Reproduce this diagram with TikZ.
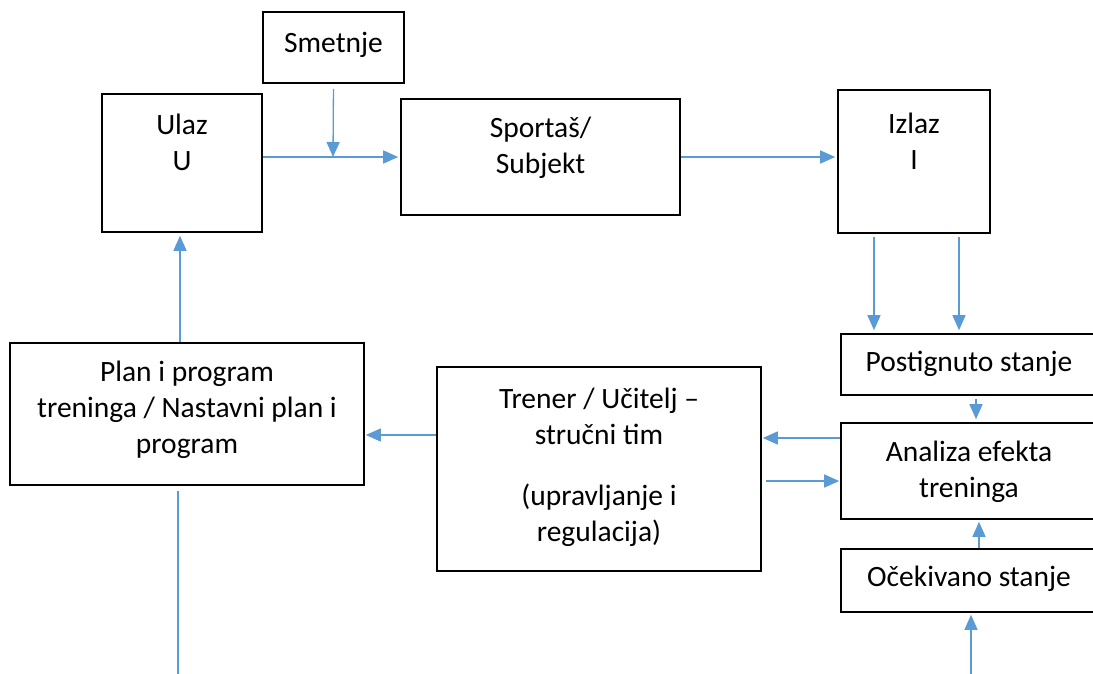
\documentclass[tikz,border=0pt]{standalone}
\usepackage{fontspec}
\setmainfont{Carlito}
\usetikzlibrary{arrows.meta}
\definecolor{flowblue}{HTML}{5B9BD5}
\tikzset{
  box/.style 2 args={draw, line width=1.6pt, minimum width=#1, minimum height=#2, inner sep=0pt},
  txt/.style={align=center, inner sep=0pt, font=\fontsize{29.5}{36}\selectfont},
  flow/.style={draw=flowblue, line width=1.3pt, -{Triangle[length=15pt,width=13pt]}},
  wire/.style={draw=flowblue, line width=1.3pt},
}
\begin{document}
\begin{tikzpicture}[x=1pt, y=-1pt]

  \useasboundingbox (0,0) rectangle (1093,674);

  %% boxes
  \node[box={141pt}{71pt}]  (smet)   at (333.5, 47.5) {};
  \node[box={160pt}{138pt}] (ulaz)   at (182, 163) {};
  \node[box={279pt}{116pt}] (sport)  at (540.5, 157) {};
  \node[box={152pt}{143pt}] (izlaz)  at (914, 161.5) {};
  \node[box={254pt}{61pt}]  (post)   at (968, 364.5) {};
  \node[box={254pt}{96pt}]  (anal)   at (968, 471) {};
  \node[box={254pt}{63pt}]  (ocek)   at (968, 580.5) {};
  \node[box={354pt}{142pt}] (plan)   at (187, 414) {};
  \node[box={324pt}{204pt}] (trener) at (599, 469) {};

  %% texts
  \node[txt] at (333.5, 45)  {Smetnje};
  \node[txt] at (182, 142)   {Ulaz\\U};
  \node[txt] at (540.5, 148) {Sportaš/\\Subjekt};
  \node[txt] at (914, 141)   {Izlaz\\I};
  \node[txt] at (969, 364)   {Postignuto stanje};
  \node[txt] at (969, 472)   {Analiza efekta\\treninga};
  \node[txt] at (969, 579)   {Očekivano stanje};
  \node[txt] at (187, 410)   {Plan i program\\treninga / Nastavni plan i\\program};
  \node[txt] at (599, 467)   {Trener / Učitelj --\\stručni tim\\[25pt](upravljanje i\\regulacija)};

  %% free ends
  \coordinate (merge) at (333, 157);
  \coordinate (xa) at (874, 0);
  \coordinate (xb) at (959, 0);
  \coordinate (xc) at (976, 0);
  \coordinate (xd) at (979, 0);
  \coordinate (inE) at (971, 674);
  \coordinate (outP) at (178, 674);
  \coordinate (ya) at (0, 438);
  \coordinate (yb) at (0, 481);
  \coordinate (yc) at (0, 435);
  \coordinate (xe) at (180, 0);

  %% connectors
  \draw[flow, shorten >=2pt] (ulaz.east |- sport.west) -- (sport.west); %% Ulaz->Sportas
  \draw[flow, shorten <=5pt] (smet.south) -- (merge); %% Smetnje
  \draw[flow, shorten >=2pt] (sport.east) -- (izlaz.west |- sport.east); %% Sportas->Izlaz
  \draw[flow, shorten <=3pt, shorten >=3pt] (izlaz.south -| xa) -- (post.north -| xa);
  \draw[flow, shorten <=3pt, shorten >=3pt] (izlaz.south -| xb) -- (post.north -| xb);
  \draw[flow, shorten <=3pt, shorten >=3pt] (post.south -| xc) -- (anal.north -| xc);
  \draw[flow, shorten >=2pt] (ocek.north -| xd) -- (anal.south -| xd);
  \draw[flow, shorten >=2pt] (inE) -- (ocek.south -| inE);
  \draw[flow, shorten >=1pt] (anal.west |- ya) -- (trener.east |- ya); %% Analiza->Trener
  \draw[flow, shorten <=4pt, shorten >=1pt] (trener.east |- yb) -- (anal.west |- yb); %% Trener->Analiza
  \draw[flow, shorten >=1pt] (trener.west |- yc) -- (plan.east |- yc); %% Trener->Plan
  \draw[flow, shorten >=3pt] (plan.north -| xe) -- (ulaz.south -| xe); %% Plan->Ulaz
  \draw[wire, shorten <=5pt] (plan.south -| outP) -- (outP);
\end{tikzpicture}
\end{document}
